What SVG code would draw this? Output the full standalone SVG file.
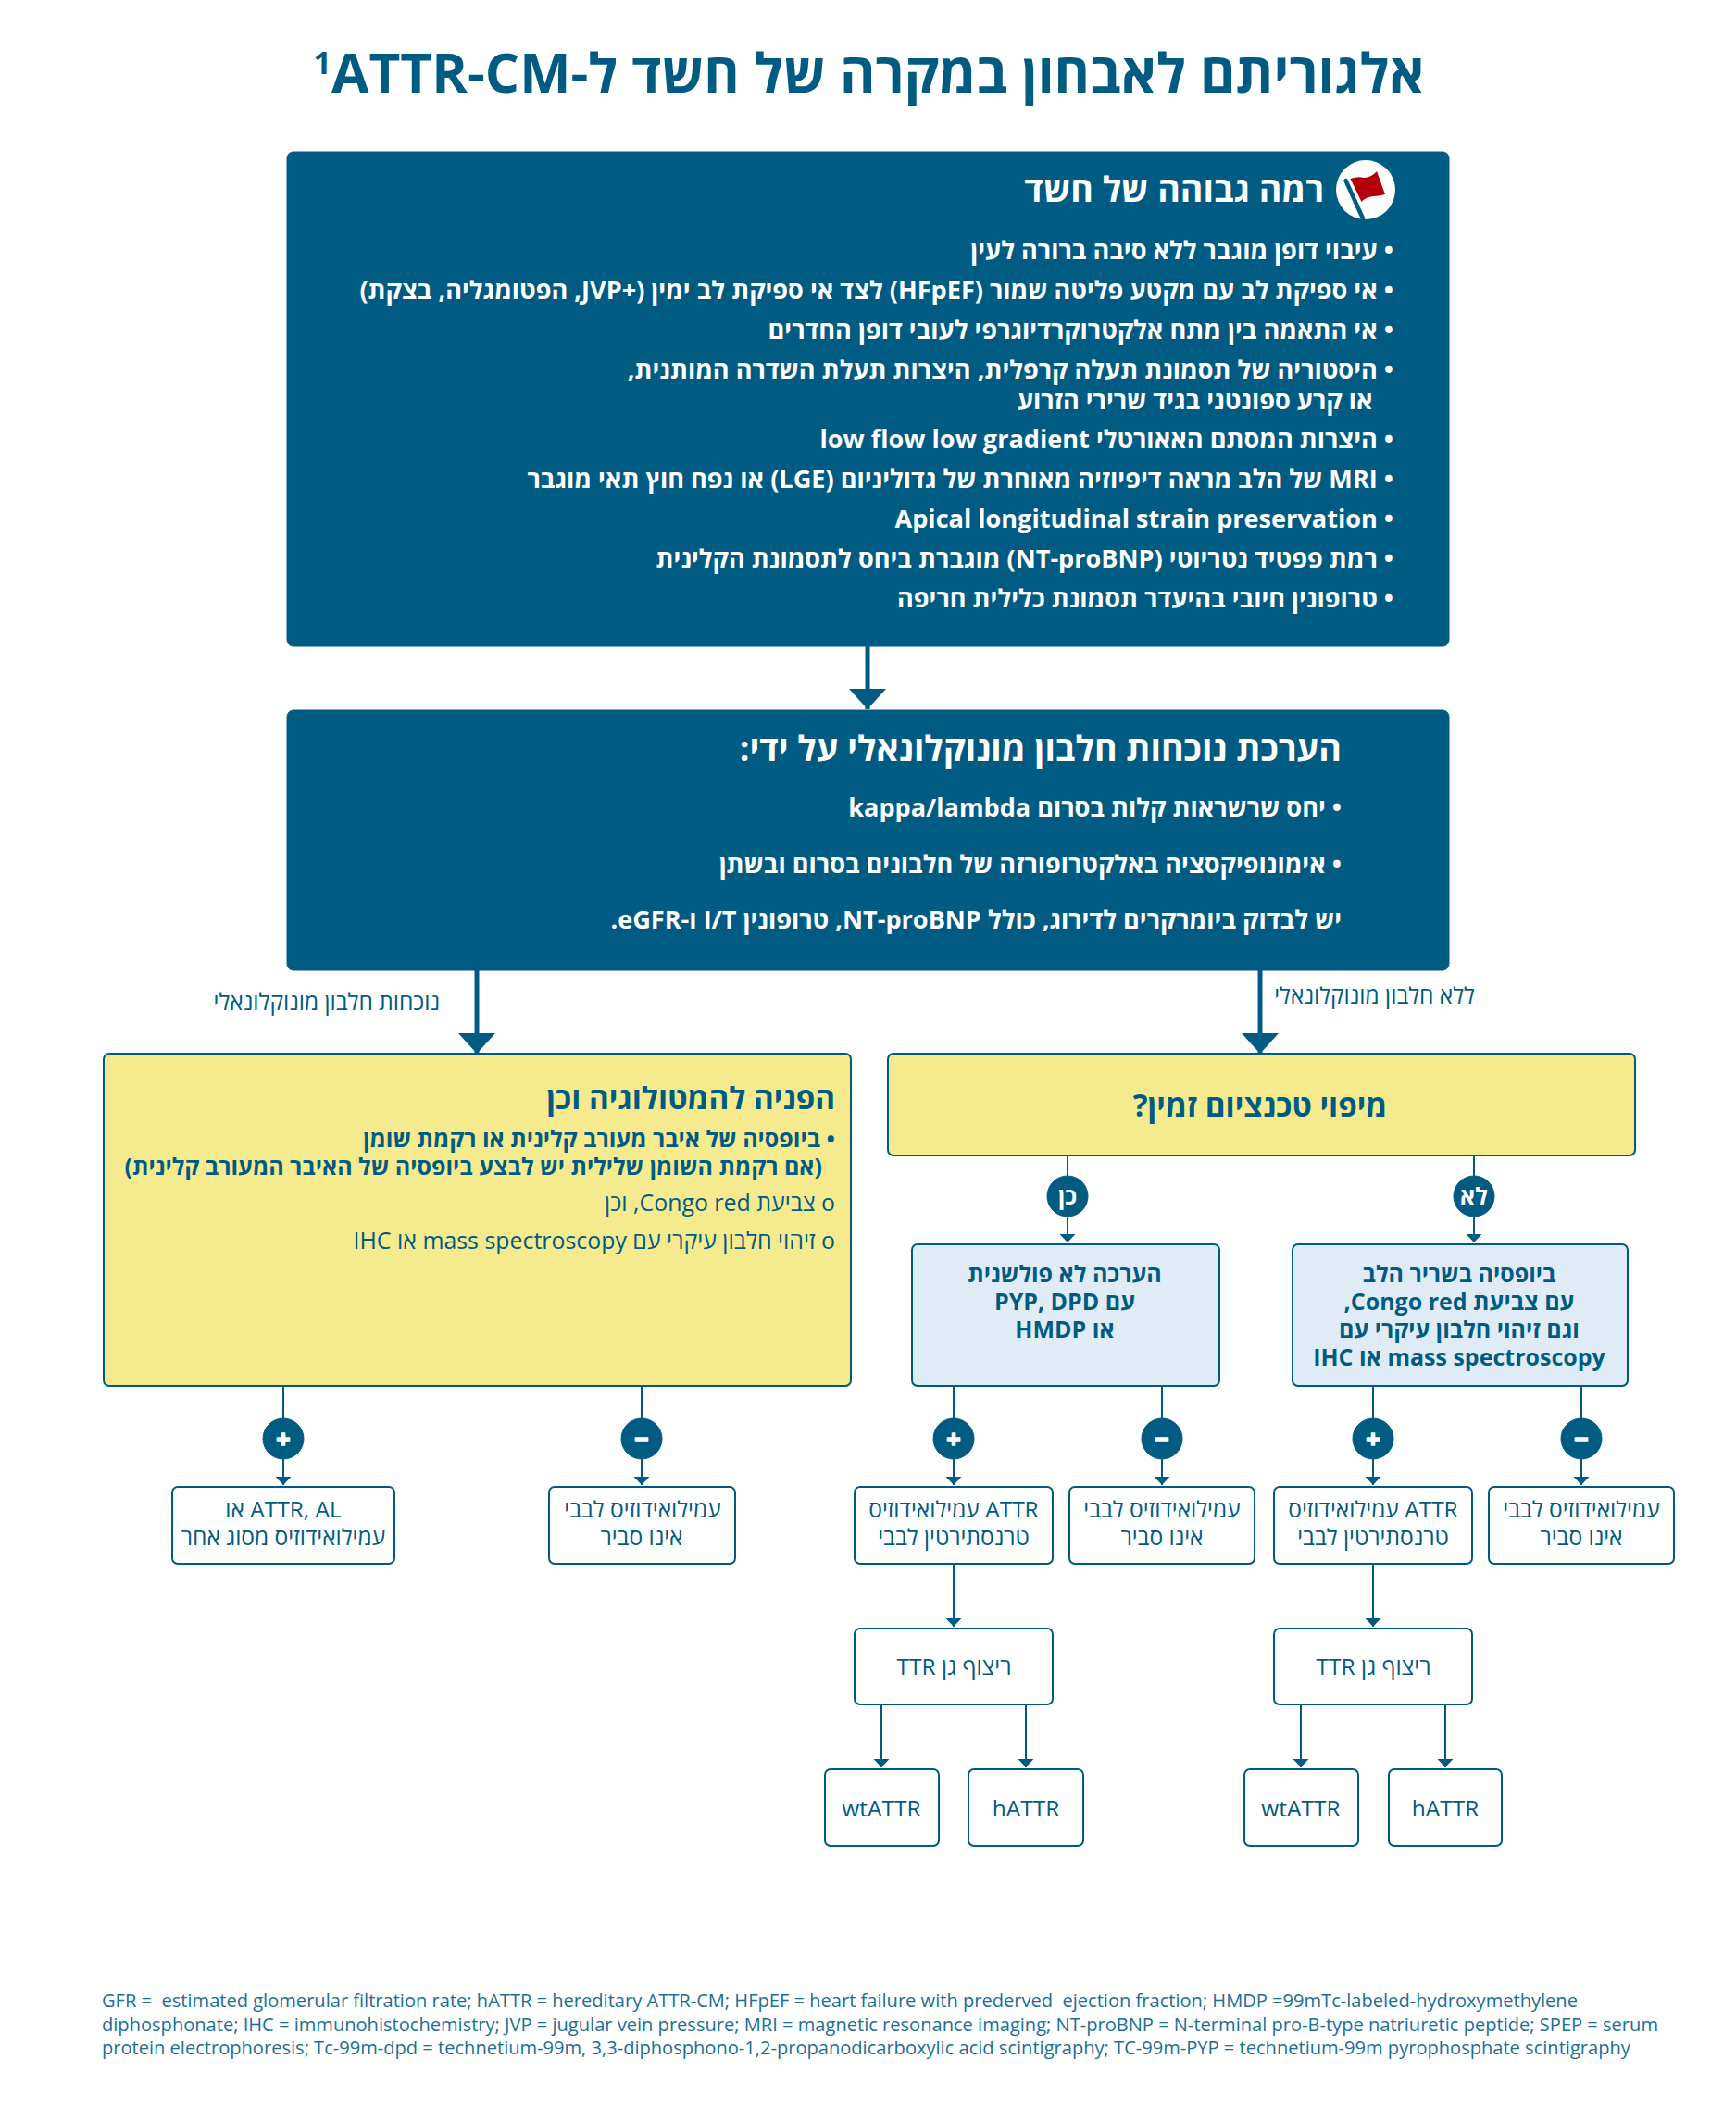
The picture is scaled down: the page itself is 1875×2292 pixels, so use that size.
<svg xmlns="http://www.w3.org/2000/svg" width="1875" height="2292" viewBox="0 0 1875 2292">
<style>
text{font-family:"Open Sans","Noto Sans",sans-serif;fill:#005b82}
.r{direction:rtl;text-anchor:start}
.m{text-anchor:middle;direction:rtl}
.b{font-weight:700}
.w{fill:#fff}
.dark{fill:#005b82;stroke:#005b82;stroke-width:1}
.y{fill:#f5ea8e;stroke:#005b82;stroke-width:2}
.bl{fill:#e0ecf5;stroke:#005b82;stroke-width:2}
.o{fill:#fff;stroke:#005b82;stroke-width:2}
.t1{font-size:27.1px;font-weight:700}
.t2{font-size:25px}
.t3{font-size:24.5px}
.ft{font-size:20.08px;fill:#1c6f96}
.sym{font-size:27px;font-weight:700;fill:#fff;stroke:#fff;stroke-width:1.5;stroke-linejoin:round;text-anchor:middle}
.thick{stroke:#005b82;stroke-width:5;fill:none;marker-end:url(#big)}
.thin{stroke:#005b82;stroke-width:2;fill:none;marker-end:url(#small)}
</style>
<defs>
<marker id="big" markerUnits="userSpaceOnUse" markerWidth="22" markerHeight="40" refX="22" refY="20" orient="auto"><path d="M0 0V40L22 20Z" fill="#005b82"/></marker>
<marker id="small" markerUnits="userSpaceOnUse" markerWidth="9" markerHeight="17" refX="9" refY="8.5" orient="auto"><path d="M0 0V17L9 8.5Z" fill="#005b82"/></marker>
</defs>
<g id="title"><text class="m b" x="938.5" y="100" font-size="58.6">אלגוריתם לאבחון במקרה של חשד ל-ATTR-CM&#x200F;<tspan font-size="34" baseline-shift="20">1</tspan></text></g>
<g id="connectors">
<line class="thick" x1="937" y1="697" x2="937" y2="766"/>
<line class="thick" x1="515" y1="1047" x2="515" y2="1138"/>
<line class="thick" x1="1361" y1="1047" x2="1361" y2="1138"/>
<line class="thin" x1="1153" y1="1248" x2="1153" y2="1342"/>
<line class="thin" x1="1592" y1="1248" x2="1592" y2="1342"/>
<line class="thin" x1="306" y1="1497" x2="306" y2="1604"/>
<line class="thin" x1="693" y1="1497" x2="693" y2="1604"/>
<line class="thin" x1="1030" y1="1497" x2="1030" y2="1604"/>
<line class="thin" x1="1255" y1="1497" x2="1255" y2="1604"/>
<line class="thin" x1="1483" y1="1497" x2="1483" y2="1604"/>
<line class="thin" x1="1708" y1="1497" x2="1708" y2="1604"/>
<line class="thin" x1="1030" y1="1689" x2="1030" y2="1757"/>
<line class="thin" x1="1483" y1="1689" x2="1483" y2="1757"/>
<line class="thin" x1="952" y1="1841" x2="952" y2="1909"/>
<line class="thin" x1="1108" y1="1841" x2="1108" y2="1909"/>
<line class="thin" x1="1405" y1="1841" x2="1405" y2="1909"/>
<line class="thin" x1="1561" y1="1841" x2="1561" y2="1909"/>
</g>
<g id="n-high">
<rect class="dark" x="310" y="164" width="1255" height="534" rx="7"/>
<circle cx="1475" cy="205" r="32" fill="#fff"/>
<path d="M1453.5 195L1472 236" stroke="#005b82" stroke-width="4.5" stroke-linecap="round"/>
<path d="M1458.5 193Q1467 190 1473 192Q1481 192 1487 185L1496 210Q1490 212 1483 212Q1475 213 1470.5 218Z" fill="#b5000c"/>
<text class="r b w" x="1430" y="218" font-size="37.5">רמה גבוהה של חשד</text>
<text class="r w t1" x="1505" y="280">• עיבוי דופן מוגבר ללא סיבה ברורה לעין</text>
<text class="r w t1" x="1505" y="323">• אי ספיקת לב עם מקטע פליטה שמור (HFpEF) לצד אי ספיקת לב ימין (+JVP, הפטומגליה, בצקת)</text>
<text class="r w t1" x="1505" y="366">• אי התאמה בין מתח אלקטרוקרדיוגרפי לעובי דופן החדרים</text>
<text class="r w t1" x="1505" y="409">• היסטוריה של תסמונת תעלה קרפלית, היצרות תעלת השדרה המותנית,</text>
<text class="r w t1" x="1482.5" y="442">או קרע ספונטני בגיד שרירי הזרוע</text>
<text class="r w t1" x="1505" y="484">• היצרות המסתם האאורטלי low flow low gradient</text>
<text class="r w t1" x="1505" y="527">• MRI של הלב מראה דיפיוזיה מאוחרת של גדוליניום (LGE) או נפח חוץ תאי מוגבר</text>
<text class="r w t1" x="1505" y="570">• Apical longitudinal strain preservation</text>
<text class="r w t1" x="1505" y="613">• רמת פפטיד נטריוטי (NT-proBNP) מוגברת ביחס לתסמונת הקלינית</text>
<text class="r w t1" x="1505" y="656">• טרופונין חיובי בהיעדר תסמונת כלילית חריפה</text>
</g>
<g id="n-assess">
<rect class="dark" x="310" y="767" width="1255" height="281" rx="7"/>
<text class="r w b" x="1449" y="822" font-size="37.5">הערכת נוכחות חלבון מונוקלונאלי על ידי:</text>
<text class="r w t1" x="1449" y="882">• יחס שרשראות קלות בסרום kappa/lambda</text>
<text class="r w t1" x="1449" y="943">• אימונופיקסציה באלקטרופורזה של חלבונים בסרום ובשתן</text>
<text class="r w t1" x="1449" y="1003">יש לבדוק ביומרקרים לדירוג, כולל NT-proBNP, טרופונין I/T ו-eGFR.</text>
</g>
<g id="l-yes"><text class="r t3" x="475" y="1091">נוכחות חלבון מונוקלונאלי</text></g>
<g id="l-no"><text class="r t3" x="1593" y="1084">ללא חלבון מונוקלונאלי</text></g>
<g id="n-hemat">
<rect class="y" x="112" y="1138" width="807" height="359" rx="6"/>
<text class="r b" x="902" y="1198" font-size="33.2">הפניה להמטולוגיה וכן</text>
<text class="r b" x="902" y="1239" font-size="25">• ביופסיה של איבר מעורב קלינית או רקמת שומן</text>
<text class="r b" x="888" y="1269" font-size="25">(אם רקמת השומן שלילית יש לבצע ביופסיה של האיבר המעורב קלינית)</text>
<text class="r" x="902" y="1308" font-size="24.9">o צביעת Congo red, וכן</text>
<text class="r" x="902" y="1349" font-size="24.9">o זיהוי חלבון עיקרי עם mass spectroscopy או IHC</text>
</g>
<g id="n-tech">
<rect class="y" x="959" y="1138" width="807" height="110" rx="6"/>
<text class="m b" x="1361" y="1206" font-size="33.2">מיפוי טכנציום זמין?</text>
</g>
<g id="n-yes"><circle class="dark" cx="1153" cy="1292" r="22"/><text class="m b w" x="1153" y="1301" font-size="25">כן</text></g>
<g id="n-nope"><circle class="dark" cx="1592" cy="1292" r="22"/><text class="m b w" x="1592" y="1301" font-size="25">לא</text></g>
<g id="n-noninv">
<rect class="bl" x="985" y="1344" width="332" height="153" rx="6"/>
<text class="m b t2" x="1150" y="1385">הערכה לא פולשנית</text>
<text class="m b t2" x="1150" y="1415">עם PYP, DPD</text>
<text class="m b t2" x="1150" y="1445">או HMDP</text>
</g>
<g id="n-biopsy">
<rect class="bl" x="1396" y="1344" width="362" height="153" rx="6"/>
<text class="m b t2" x="1576" y="1385">ביופסיה בשריר הלב</text>
<text class="m b t2" x="1576" y="1415">עם צביעת Congo red,</text>
<text class="m b t2" x="1576" y="1445">וגם זיהוי חלבון עיקרי עם</text>
<text class="m b t2" x="1576" y="1475">mass spectroscopy או IHC</text>
</g>
<g id="n-p1"><circle class="dark" cx="306" cy="1554" r="22"/><text class="sym" x="306" y="1564">+</text></g>
<g id="n-m1"><circle class="dark" cx="693" cy="1554" r="22"/><text class="sym" x="693" y="1564">−</text></g>
<g id="n-p2"><circle class="dark" cx="1030" cy="1554" r="22"/><text class="sym" x="1030" y="1564">+</text></g>
<g id="n-m2"><circle class="dark" cx="1255" cy="1554" r="22"/><text class="sym" x="1255" y="1564">−</text></g>
<g id="n-p3"><circle class="dark" cx="1483" cy="1554" r="22"/><text class="sym" x="1483" y="1564">+</text></g>
<g id="n-m3"><circle class="dark" cx="1708" cy="1554" r="22"/><text class="sym" x="1708" y="1564">−</text></g>
<g id="n-r1"><rect class="o" x="186" y="1606" width="240" height="83" rx="6"/><text class="m t3" x="306" y="1639">ATTR, AL או</text><text class="m t3" x="306" y="1669">עמילואידוזיס מסוג אחר</text></g>
<g id="n-r2"><rect class="o" x="593" y="1606" width="201" height="83" rx="6"/><text class="m t3" x="694" y="1639">עמילואידוזיס לבבי</text><text class="m t3" x="693" y="1669">אינו סביר</text></g>
<g id="n-r3"><rect class="o" x="923" y="1606" width="214" height="83" rx="6"/><text class="m t3" x="1030" y="1639">ATTR עמילואידוזיס</text><text class="m t3" x="1030" y="1669">טרנסתירטין לבבי</text></g>
<g id="n-r4"><rect class="o" x="1155" y="1606" width="200" height="83" rx="6"/><text class="m t3" x="1255" y="1639">עמילואידוזיס לבבי</text><text class="m t3" x="1255" y="1669">אינו סביר</text></g>
<g id="n-r5"><rect class="o" x="1376" y="1606" width="214" height="83" rx="6"/><text class="m t3" x="1483" y="1639">ATTR עמילואידוזיס</text><text class="m t3" x="1483" y="1669">טרנסתירטין לבבי</text></g>
<g id="n-r6"><rect class="o" x="1608" y="1606" width="200" height="83" rx="6"/><text class="m t3" x="1708" y="1639">עמילואידוזיס לבבי</text><text class="m t3" x="1708" y="1669">אינו סביר</text></g>
<g id="n-g1"><rect class="o" x="923" y="1759" width="214" height="82" rx="6"/><text class="m t3" x="1030.5" y="1809">ריצוף גן TTR</text></g>
<g id="n-g2"><rect class="o" x="1376" y="1759" width="214" height="82" rx="6"/><text class="m t3" x="1483.5" y="1809">ריצוף גן TTR</text></g>
<g id="n-w1"><rect class="o" x="891" y="1911" width="123" height="83" rx="6"/><text class="m t3" x="952" y="1962">wtATTR</text></g>
<g id="n-h1"><rect class="o" x="1046" y="1911" width="124" height="83" rx="6"/><text class="m t3" x="1108" y="1962">hATTR</text></g>
<g id="n-w2"><rect class="o" x="1344" y="1911" width="123" height="83" rx="6"/><text class="m t3" x="1405" y="1962">wtATTR</text></g>
<g id="n-h2"><rect class="o" x="1500" y="1911" width="122" height="83" rx="6"/><text class="m t3" x="1561" y="1962">hATTR</text></g>
<g id="footer">
<text class="ft" x="110" y="2168" xml:space="preserve">GFR =  estimated glomerular filtration rate; hATTR = hereditary ATTR-CM; HFpEF = heart failure with prederved  ejection fraction; HMDP =99mTc-labeled-hydroxymethylene</text>
<text class="ft" x="110" y="2194" xml:space="preserve">diphosphonate; IHC = immunohistochemistry; JVP = jugular vein pressure; MRI = magnetic resonance imaging; NT-proBNP = N-terminal pro-B-type natriuretic peptide; SPEP = serum</text>
<text class="ft" x="110" y="2219" xml:space="preserve">protein electrophoresis; Tc-99m-dpd = technetium-99m, 3,3-diphosphono-1,2-propanodicarboxylic acid scintigraphy; TC-99m-PYP = technetium-99m pyrophosphate scintigraphy</text>
</g>
</svg>
